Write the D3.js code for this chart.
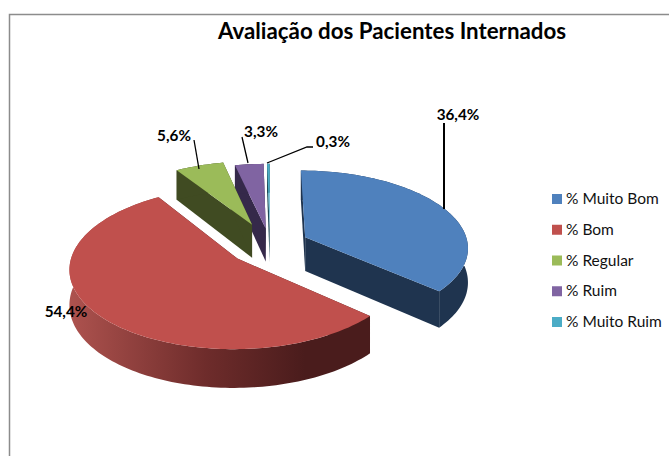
<!doctype html>
<html lang="en">

<head>
    <meta charset="utf-8">
    <title>Avaliação dos Pacientes Internados</title>
    <script src="https://cdn.jsdelivr.net/npm/d3@7"></script>
    <style>
        body { margin: 0; background: #fff; }
        svg { display: block; font-family: Lato, "Open Sans", sans-serif; }
    </style>
</head>

<body>
    <svg></svg>
    <script>
        var categories = ["% Muito Bom", "% Bom", "% Regular", "% Ruim", "% Muito Ruim"];
        var values = [36.4, 54.4, 5.6, 3.3, 0.3];
        var valueLabels = ["36,4%", "54,4%", "5,6%", "3,3%", "0,3%"];
        var topColors = ["#4f81bd", "#c0504d", "#9bbb59", "#8064a2", "#4bacc6"];
        var wallColors = ["#1f344f", "url(#redWall)", "#404b22", "#35294a", "#1f4a56"];

        var width = 669;
        var height = 456;
        var depth = 34;
        var persp = 0.12;

        var svg = d3.select('svg').attr('width', width).attr('height', height);

        // chart frame, no right/bottom edge inside the crop
        svg.append('path')
            .attr('d', 'M9.5,456V14.5H669')
            .attr('fill', 'none')
            .attr('stroke', '#8c8c8c')
            .attr('stroke-width', 1.5);

        var grad = svg.append('defs').append('linearGradient')
            .attr('id', 'redWall')
            .attr('gradientUnits', 'userSpaceOnUse')
            .attr('x1', 71).attr('x2', 371).attr('y1', 0).attr('y2', 0);
        grad.append('stop').attr('offset', '0%').attr('stop-color', '#ad524e');
        grad.append('stop').attr('offset', '45%').attr('stop-color', '#6e2c2b');
        grad.append('stop').attr('offset', '78%').attr('stop-color', '#4a1c1c');
        grad.append('stop').attr('offset', '100%').attr('stop-color', '#4a1c1c');

        // disk coords (-1..1) to screen, near side drawn bigger
        var xScale = d3.scaleLinear().domain([-1, 1]).range([-163, 163]);
        var yScale = d3.scaleLinear().domain([-1, 1]).range([-78, 78]);
        var centerX = 270;
        var centerY = 245;

        function project(u, v, drop) {
            var s = 1 + persp * v;
            return [
                centerX + xScale(u) * s,
                centerY + yScale(v) * s + (drop ? depth * s : 0)
            ];
        }

        var pie = d3.pie().sort(null).value(function (d) { return d; });
        var arcs = pie(values);

        var explode = [0.24, 0.26, 0.29, 0.22, 0.22];
        var slices = arcs.map(function (a, i) {
            var mid = (a.startAngle + a.endAngle) / 2;
            var cu = explode[i] * Math.sin(mid);
            var cv = -explode[i] * Math.cos(mid);
            var n = Math.max(2, Math.ceil((a.endAngle - a.startAngle) * 40));
            var rim = d3.range(n + 1).map(function (k) {
                var t = a.startAngle + (a.endAngle - a.startAngle) * k / n;
                return [cu + Math.sin(t), cv - Math.cos(t)];
            });
            return { index: i, apex: [cu, cv], rim: rim };
        });

        var line = d3.line();
        function pts(list, drop) {
            return list.map(function (p) { return project(p[0], p[1], drop); });
        }

        // back to front
        var order = [4, 3, 2, 0, 1];
        var pieG = svg.append('g');
        order.forEach(function (i) {
            var s = slices[i];
            var first = s.rim[0];
            var last = s.rim[s.rim.length - 1];
            var wall = wallColors[i];
            var solidWall = i === 1 ? '#4a1c1c' : wall;

            // the two cut faces
            [first, last].forEach(function (edge) {
                pieG.append('path')
                    .attr('d', line(pts([s.apex, edge], false).concat(pts([edge, s.apex], true))) + 'Z')
                    .attr('fill', solidWall);
            });
            // outer wall
            pieG.append('path')
                .attr('d', line(pts(s.rim, false).concat(pts(s.rim.slice().reverse(), true))) + 'Z')
                .attr('fill', wall);
            // top
            pieG.append('path')
                .attr('d', line(pts([s.apex].concat(s.rim), false)) + 'Z')
                .attr('fill', topColors[i]);
        });

        // title
        svg.append('text')
            .attr('x', 392).attr('y', 39)
            .attr('text-anchor', 'middle')
            .attr('font-size', 22.3)
            .attr('font-weight', 700)
            .text('Avaliação dos Pacientes Internados');

        // data labels and leaders
        var labelX = [458, 66, 174, 261, 333];
        var labelY = [120, 317, 141, 137, 147];
        var leaders = [
            'M444,123V209',
            null,
            'M194,140L199,169',
            'M242,137L248,163',
            'M267,163L307,147H313'
        ];
        values.forEach(function (v, i) {
            svg.append('text')
                .attr('x', labelX[i]).attr('y', labelY[i])
                .attr('text-anchor', 'middle')
                .attr('font-size', 15.3)
                .attr('font-weight', 700)
                .text(valueLabels[i]);
            if (leaders[i]) {
                svg.append('path')
                    .attr('d', leaders[i])
                    .attr('fill', 'none')
                    .attr('stroke', '#000')
                    .attr('stroke-width', i === 0 ? 2 : 1.3);
            }
        });

        // legend
        var legendY = d3.scalePoint().domain(categories).range([199, 322]);
        var legend = svg.append('g').selectAll('g')
            .data(categories)
            .enter()
            .append('g')
            .attr('transform', function (d) { return 'translate(552,' + legendY(d) + ')'; });
        legend.append('rect')
            .attr('x', 0).attr('y', -5)
            .attr('width', 10).attr('height', 10)
            .attr('fill', function (d, i) { return topColors[i]; });
        legend.append('text')
            .attr('x', 14).attr('y', 5)
            .attr('font-size', 15.5)
            .attr('fill', '#111')
            .text(function (d) { return d; });
    </script>

</body>

</html>
